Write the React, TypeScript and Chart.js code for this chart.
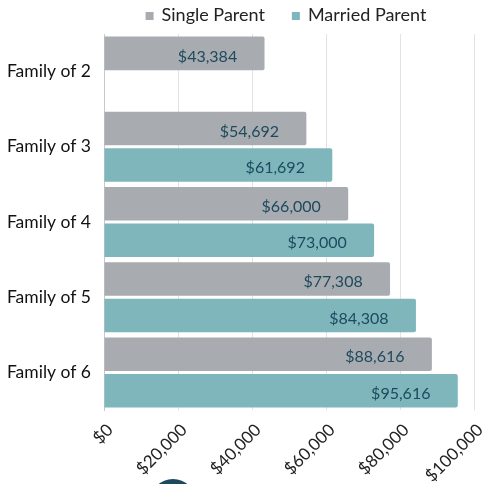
import React, { useEffect, useRef } from "react";
import { Chart, registerables } from "chart.js";

Chart.register(...registerables);

const categories = ["Family of 2", "Family of 3", "Family of 4", "Family of 5", "Family of 6"];
const singleParent = [43384, 54692, 66000, 77308, 88616];
const marriedParent = [null, 61692, 73000, 84308, 95616];
const xTicks = [0, 20000, 40000, 60000, 80000, 100000];

const seriesNames = ["Single Parent", "Married Parent"];
const seriesColors = ["#a8abaf", "#7fb6bc"];

const fmt = (v: number) => "$" + v.toLocaleString("en-US");

const labelPlugin = {
  id: "barLabels",
  afterDatasetsDraw(chart: any) {
    const ctx = chart.ctx;
    ctx.save();
    ctx.font = "16px Lato";
    ctx.fillStyle = "#1d4a5e";
    ctx.textAlign = "center";
    ctx.textBaseline = "middle";
    chart.data.datasets.forEach((ds: any, i: number) => {
      const meta = chart.getDatasetMeta(i);
      meta.data.forEach((el: any, j: number) => {
        const v = ds.data[j];
        if (v == null) return;
        ctx.fillText(fmt(v), el.x - 57, el.y + 3);
      });
    });
    ctx.restore();
  },
};

const legendPlugin = {
  id: "customLegend",
  afterDraw(chart: any) {
    const ctx = chart.ctx;
    const area = chart.chartArea;
    ctx.save();
    ctx.font = "18px Lato";
    ctx.textBaseline = "middle";
    ctx.textAlign = "left";
    const box = 8;
    const gapText = 8;
    const gapItem = 27;
    const widths = chart.data.datasets.map((d: any) => ctx.measureText(d.label).width);
    let total = 0;
    widths.forEach((w: number, i: number) => {
      total += box + gapText + w + (i < widths.length - 1 ? gapItem : 0);
    });
    let x = (area.left + area.right) / 2 - 3 - total / 2;
    const y = 15;
    chart.data.datasets.forEach((d: any, i: number) => {
      ctx.fillStyle = d.backgroundColor;
      ctx.fillRect(x, y - box / 2 + 1, box, box);
      x += box + gapText;
      ctx.fillStyle = "#222";
      ctx.fillText(d.label, x, y);
      x += widths[i] + gapItem;
    });
    ctx.restore();
  },
};

export default function App() {
  const ref = useRef<HTMLCanvasElement>(null);
  useEffect(() => {
    if (!ref.current) return;
    const chart = new Chart(ref.current, {
      type: "bar",
      data: {
        labels: categories,
        datasets: [
          {
            label: seriesNames[0],
            data: singleParent,
            backgroundColor: seriesColors[0],
            borderRadius: 2,
            borderSkipped: "start",
            barPercentage: 0.92,
            categoryPercentage: 0.97,
          },
          {
            label: seriesNames[1],
            data: marriedParent as any,
            backgroundColor: seriesColors[1],
            borderRadius: 2,
            borderSkipped: "start",
            barPercentage: 0.92,
            categoryPercentage: 0.97,
          },
        ],
      },
      options: {
        indexAxis: "y",
        animation: false,
        responsive: true,
        maintainAspectRatio: false,
        layout: { padding: { left: 0, right: 10, top: 34, bottom: 0 } },
        plugins: {
          legend: { display: false },
          tooltip: { enabled: false },
        },
        scales: {
          x: {
            min: 0,
            max: 100000,
            afterBuildTicks: (axis: any) => {
              axis.ticks = xTicks.map((v) => ({ value: v }));
            },
            afterFit: (scale: any) => {
              scale.paddingRight = 0;
              scale.paddingLeft = 0;
            },
            ticks: {
              minRotation: 45,
              maxRotation: 45,
              padding: 10,
              labelOffset: 6,
              color: "#222",
              font: { family: "Lato", size: 17 },
              callback: (v: any) => fmt(Number(v)),
            },
            grid: { color: "#e2e2e2", drawTicks: false },
            border: { display: false },
          },
          y: {
            afterFit: (scale: any) => {
              scale.width = 104;
            },
            ticks: {
              color: "#111",
              padding: 13,
              font: { family: "Lato", size: 17.5 },
            },
            grid: { display: false, drawTicks: false },
            border: { display: true, color: "#c8c8c8" },
          },
        },
      },
      plugins: [labelPlugin, legendPlugin],
    } as any);
    return () => chart.destroy();
  }, []);
  return (
    <div style={{ position: "fixed", left: 0, top: 0, width: 484, height: 484, background: "#fff", overflow: "hidden" }}>
      <div style={{ position: "absolute", left: 0, top: 0, width: 484, height: 496 }}>
        <canvas ref={ref} />
      </div>
      <div
        style={{
          position: "absolute",
          left: 150,
          top: 479,
          width: 46,
          height: 46,
          borderRadius: "50%",
          background: "#1b4a5e",
        }}
      />
    </div>
  );
}
